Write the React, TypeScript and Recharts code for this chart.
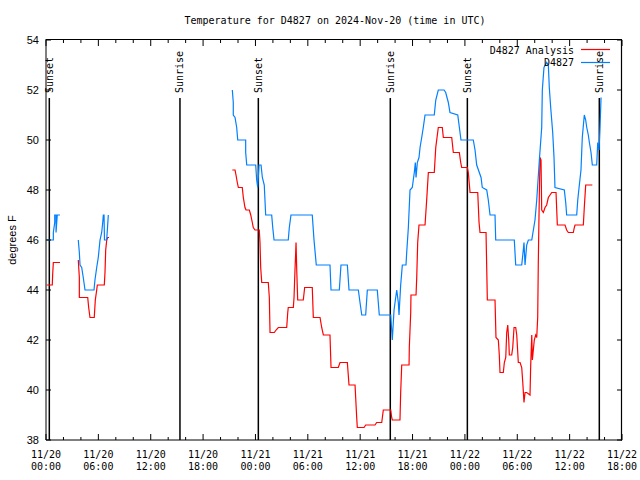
import React from 'react';
import { LineChart, Line, XAxis, YAxis, ReferenceLine } from 'recharts';

type Pt = [number, number];

// Hours since 2024-11-20 00:00 UTC, temperature in °F
const analysisSeg1: Pt[] = [[0.08,44.2],[0.72,44.2],[0.76,44.6],[0.84,45.1],[1.6,45.1]];
const analysisSeg2: Pt[] = [
  [3.70,45.2],[3.82,44.5],[3.82,43.7],[4.78,43.7],[4.89,43.3],[5.04,42.9],[5.53,42.9],[5.65,43.6],
  [5.81,44.0],[5.88,44.2],[6.68,44.2],[6.76,44.7],[6.84,45.6],[6.96,46.0],[7.07,46.1],[7.22,46.1],
];
const analysisSeg3: Pt[] = [
  [21.35,48.8],[21.66,48.8],[21.77,48.6],[21.92,48.3],[22.04,48.1],[22.49,48.1],[22.61,47.7],[22.80,47.3],
  [22.92,47.2],[23.30,47.2],[23.46,47.0],[23.64,46.7],[23.75,46.5],[23.95,46.4],[24.44,46.4],[24.52,45.9],
  [24.60,44.9],[24.72,44.3],[25.47,44.3],[25.59,43.7],[25.67,42.3],[26.16,42.3],[26.36,42.4],[26.62,42.5],
  [27.58,42.5],[27.70,43.1],[27.76,43.3],[28.34,43.3],[28.42,43.7],[28.53,44.8],[28.61,45.5],[28.65,45.9],
  [28.73,44.8],[28.84,43.6],[29.48,43.6],[29.64,44.1],[30.51,44.1],[30.63,42.9],[31.40,42.9],[31.59,42.5],
  [31.78,42.2],[32.54,42.2],[32.66,40.9],[33.49,40.9],[33.69,41.1],[34.53,41.1],[34.72,40.2],[35.41,40.2],
  [35.60,38.9],[35.67,38.5],[36.44,38.5],[36.63,38.6],[37.70,38.6],[37.89,38.7],[38.47,38.7],[38.65,39.2],
  [39.50,39.2],[39.61,38.9],[39.68,38.8],[40.56,38.8],[40.64,39.9],[40.76,41.0],[41.60,41.0],[41.63,41.7],
  [41.79,43.1],[41.82,43.8],[42.40,43.8],[42.48,44.5],[42.59,45.9],[42.74,46.6],[43.43,46.6],[43.62,47.6],
  [43.81,48.7],[44.49,48.7],[44.66,49.7],[44.95,50.5],[45.41,50.5],[45.53,50.1],[46.49,50.1],[46.67,49.5],
  [47.36,49.5],[47.52,49.1],[47.63,48.9],[48.28,48.9],[48.39,48.7],[48.59,47.9],[49.47,47.9],[49.62,46.7],
  [49.73,46.3],[50.42,46.3],[50.57,43.6],[51.45,43.6],[51.56,42.1],[51.83,42.0],[51.94,41.4],[52.02,40.7],
  [52.40,40.7],[52.52,41.1],[52.68,41.3],[52.79,42.3],[52.91,42.6],[53.02,42.0],[53.09,41.4],[53.36,41.4],
  [53.48,41.7],[53.63,42.5],[53.82,42.5],[53.94,42.2],[54.12,41.1],[54.32,41.1],[54.51,40.9],[54.63,40.3],
  [54.77,39.5],[54.89,39.9],[55.08,39.9],[55.46,39.8],[55.54,41.0],[55.66,42.2],[55.73,41.2],[55.84,41.6],
  [55.95,42.0],[56.11,42.2],[56.23,42.1],[56.34,42.9],[56.41,45.1],[56.53,47.9],[56.61,49.3],[56.72,49.2],
  [56.80,47.2],[56.99,47.1],[57.18,47.3],[57.37,47.4],[57.56,47.7],[57.95,47.9],[58.44,47.9],[58.59,46.6],
  [59.47,46.6],[59.66,46.4],[59.85,46.3],[60.42,46.3],[60.54,46.5],[60.62,46.6],[61.57,46.6],[61.68,47.3],
  [61.84,48.2],[62.60,48.2],
];

const observedSeg1: Pt[] = [
  [0.08,46.0],[0.84,46.0],[0.84,46.3],[1.0,46.7],[1.0,47.0],[1.15,47.0],[1.15,46.3],[1.23,46.7],[1.29,47.0],[1.6,47.0],
];
const observedSeg2: Pt[] = [
  [3.70,46.0],[3.82,45.5],[3.90,45.0],[4.09,44.9],[4.27,44.5],[4.47,44.0],[5.50,44.0],[5.61,44.4],
  [5.81,44.9],[5.99,45.3],[6.19,46.0],[6.38,46.3],[6.50,46.7],[6.57,47.0],[6.65,47.0],[6.70,46.0],
  [6.95,46.0],[7.05,46.5],[7.14,47.0],
];
const observedSeg3: Pt[] = [
  [21.35,52.0],[21.46,51.5],[21.46,51.0],[21.66,50.9],[21.85,50.5],[21.97,50.0],[22.88,50.0],[22.88,49.5],
  [23.0,49.0],[24.03,49.0],[24.14,48.4],[24.26,48.1],[24.41,49.0],[24.64,49.0],[24.79,48.5],[25.01,48.2],
  [25.17,47.0],[25.86,47.0],[25.98,46.5],[26.13,46.0],[27.76,46.0],[27.88,46.5],[28.07,47.0],[30.51,47.0],
  [30.71,46.0],[30.97,45.0],[32.54,45.0],[32.66,44.0],[33.61,44.0],[33.80,45.0],[34.53,45.0],[34.72,44.0],
  [35.79,44.0],[35.98,43.5],[36.18,43.0],[36.63,43.0],[36.82,44.0],[37.96,44.0],[38.19,43.0],[39.50,43.0],
  [39.61,42.4],[39.68,42.0],[39.88,43.2],[40.07,43.7],[40.19,44.0],[40.37,43.5],[40.45,43.0],[40.64,44.2],
  [40.76,44.7],[40.83,45.0],[41.25,45.0],[41.33,45.5],[41.52,46.5],[41.71,48.0],[41.97,48.1],[42.20,48.7],
  [42.32,49.1],[42.40,48.5],[42.55,49.1],[42.74,49.3],[42.86,49.7],[43.05,50.1],[43.23,50.5],[43.43,51.0],
  [44.49,51.0],[44.66,51.6],[44.95,52.0],[45.61,52.0],[45.80,51.9],[46.10,51.5],[46.29,51.1],[47.18,51.0],
  [47.33,50.6],[47.55,50.0],[48.96,50.0],[49.16,49.6],[49.35,49.0],[49.85,48.5],[49.99,48.1],[50.50,48.0],
  [50.68,47.6],[50.88,47.0],[51.45,47.0],[51.53,46.0],[53.66,46.0],[53.82,45.0],[54.51,45.0],[54.69,45.6],
  [54.77,45.9],[54.89,45.0],[55.08,45.8],[55.27,46.0],[55.66,46.0],[56.03,46.8],[56.23,47.6],[56.53,49.2],
  [56.80,50.5],[56.87,52.0],[57.06,52.9],[57.37,53.1],[57.56,53.0],[57.67,52.1],[57.83,51.3],[58.06,50.3],
  [58.21,49.3],[58.32,48.1],[59.39,48.0],[59.55,47.5],[59.66,47.0],[60.81,47.0],[60.93,47.6],[61.08,48.1],
  [61.30,48.8],[61.45,50.1],[61.68,51.0],[61.84,50.8],[61.96,50.5],[62.14,50.2],[62.26,49.9],[62.45,49.5],
  [62.60,49.0],[63.10,49.0],[63.22,49.9],[63.37,49.6],[63.48,50.5],[63.60,51.7],
];

const sunTimes = [0.38, 15.35, 24.33, 39.45, 48.28, 63.40];
const sunLabels = ['Sunset', 'Sunrise', 'Sunset', 'Sunrise', 'Sunset', 'Sunrise'];
const sunLineTop = 51.68;

const xDomain: [number, number] = [0, 66];
const yDomain: [number, number] = [38, 54];
const yTicks = [38, 40, 42, 44, 46, 48, 50, 52, 54];
const xAllTicks = [0,2,4,6,8,10,12,14,16,18,20,22,24,26,28,30,32,34,36,38,40,42,44,46,48,50,52,54,56,58,60,62,64,66];
const xMajorTicks = [0, 6, 12, 18, 24, 30, 36, 42, 48, 54, 60, 66];
const xDateLabels = ['11/20','11/20','11/20','11/20','11/21','11/21','11/21','11/21','11/22','11/22','11/22','11/22'];
const xTimeLabels = ['00:00','06:00','12:00','18:00','00:00','06:00','12:00','18:00','00:00','06:00','12:00','18:00'];

const titleText = 'Temperature for D4827 on 2024-Nov-20 (time in UTC)';
const analysisName = 'D4827 Analysis';
const observedName = 'D4827';
const yAxisTitle = 'degrees F';

const RED = '#ff0000';
const BLUE = '#0080ff';
const MONO = '"DejaVu Sans Mono", "Liberation Mono", monospace';
const SANS = '"Liberation Sans", Arial, sans-serif';

// plot frame (styling)
const PLOT_TOP = 40;
const PLOT_RIGHT = 622;

function toSeries(segs: Pt[][]) {
  const out: { t: number; v: number | null }[] = [];
  segs.forEach((seg, i) => {
    if (i > 0) {
      const prev = segs[i - 1];
      out.push({ t: (prev[prev.length - 1][0] + seg[0][0]) / 2, v: null });
    }
    seg.forEach(([t, v]) => out.push({ t, v }));
  });
  return out;
}

const analysisData = toSeries([analysisSeg1, analysisSeg2, analysisSeg3]);
const observedData = toSeries([observedSeg1, observedSeg2, observedSeg3]);

const BottomTick = (props: any) => {
  const { x, y, payload } = props;
  const idx = xMajorTicks.indexOf(payload.value);
  const major = idx >= 0;
  const len = major ? 6 : 3;
  return (
    <g>
      <line x1={x} x2={x} y1={y} y2={y - len} stroke="#000" strokeWidth={1} />
      <line x1={x} x2={x} y1={PLOT_TOP} y2={PLOT_TOP + len} stroke="#000" strokeWidth={1} />
      {major && (
        <text x={x} y={y + 18} textAnchor="middle" fontFamily={MONO} fontSize={10} fill="#000">
          {xDateLabels[idx]}
        </text>
      )}
      {major && (
        <text x={x} y={y + 30} textAnchor="middle" fontFamily={MONO} fontSize={10} fill="#000">
          {xTimeLabels[idx]}
        </text>
      )}
    </g>
  );
};

const LeftTick = (props: any) => {
  const { x, y, payload } = props;
  return (
    <g>
      <line x1={x} x2={x + 5} y1={y} y2={y} stroke="#000" strokeWidth={1} />
      <line x1={PLOT_RIGHT} x2={PLOT_RIGHT - 5} y1={y} y2={y} stroke="#000" strokeWidth={1} />
      <text x={x - 7} y={y} dy="0.36em" textAnchor="end" fontFamily={SANS} fontSize={11} fill="#000">
        {payload.value}
      </text>
    </g>
  );
};

const SunLabel = (text: string) => (props: any) => {
  const vb = props.viewBox || {};
  const x = vb.x;
  const y = vb.y - 5;
  return (
    <text
      x={x}
      y={y}
      transform={`rotate(-90, ${x}, ${y})`}
      textAnchor="start"
      dy="0.35em"
      fontFamily={MONO}
      fontSize={10}
      fill="#000"
    >
      {text}
    </text>
  );
};

export default function App() {
  return (
    <div style={{ position: 'absolute', left: 0, top: 0, width: 640, height: 480, background: '#fff' }}>
      <LineChart width={640} height={480} margin={{ top: 40, right: 18, bottom: 0, left: 0 }}>
        <XAxis
          dataKey="t"
          type="number"
          domain={xDomain}
          ticks={xAllTicks}
          interval={0}
          height={40}
          tickSize={0}
          tickMargin={0}
          tickLine={false}
          axisLine={{ stroke: '#000' }}
          tick={<BottomTick />}
          allowDataOverflow
        />
        <YAxis
          type="number"
          domain={yDomain}
          ticks={yTicks}
          interval={0}
          width={46}
          tickSize={0}
          tickMargin={0}
          tickLine={false}
          axisLine={{ stroke: '#000' }}
          tick={<LeftTick />}
          allowDataOverflow
        />
        {sunTimes.map((t, i) => (
          <ReferenceLine
            key={`sun-${i}`}
            segment={[{ x: t, y: sunLineTop }, { x: t, y: yDomain[0] }]}
            stroke="#000"
            strokeWidth={1.5}
            label={SunLabel(sunLabels[i])}
          />
        ))}
        <Line
          data={analysisData}
          dataKey="v"
          name={analysisName}
          type="linear"
          stroke={RED}
          strokeWidth={1.2}
          dot={false}
          activeDot={false}
          connectNulls={false}
          isAnimationActive={false}
        />
        <Line
          data={observedData}
          dataKey="v"
          name={observedName}
          type="linear"
          stroke={BLUE}
          strokeWidth={1.2}
          dot={false}
          activeDot={false}
          connectNulls={false}
          isAnimationActive={false}
        />
      </LineChart>
      <svg
        width={640}
        height={480}
        style={{ position: 'absolute', left: 0, top: 0, pointerEvents: 'none' }}
      >
        <line x1={45.5} x2={622} y1={39.5} y2={39.5} stroke="#000" strokeWidth={1.2} />
        <line x1={621.5} x2={621.5} y1={39.5} y2={440.5} stroke="#000" strokeWidth={1.2} />
        <text x={335} y={24} textAnchor="middle" fontFamily={MONO} fontSize={10} fill="#000">
          {titleText}
        </text>
        <text
          x={12}
          y={240}
          transform="rotate(-90, 12, 240)"
          textAnchor="middle"
          dy="0.35em"
          fontFamily={SANS}
          fontSize={11}
          fill="#000"
        >
          {yAxisTitle}
        </text>
        <text x={574} y={53.5} textAnchor="end" fontFamily={MONO} fontSize={10} fill="#000">
          {analysisName}
        </text>
        <line x1={581} x2={610} y1={49.5} y2={49.5} stroke={RED} strokeWidth={1.2} />
        <text x={574} y={66} textAnchor="end" fontFamily={MONO} fontSize={10} fill="#000">
          {observedName}
        </text>
        <line x1={581} x2={610} y1={62.5} y2={62.5} stroke={BLUE} strokeWidth={1.2} />
      </svg>
    </div>
  );
}
